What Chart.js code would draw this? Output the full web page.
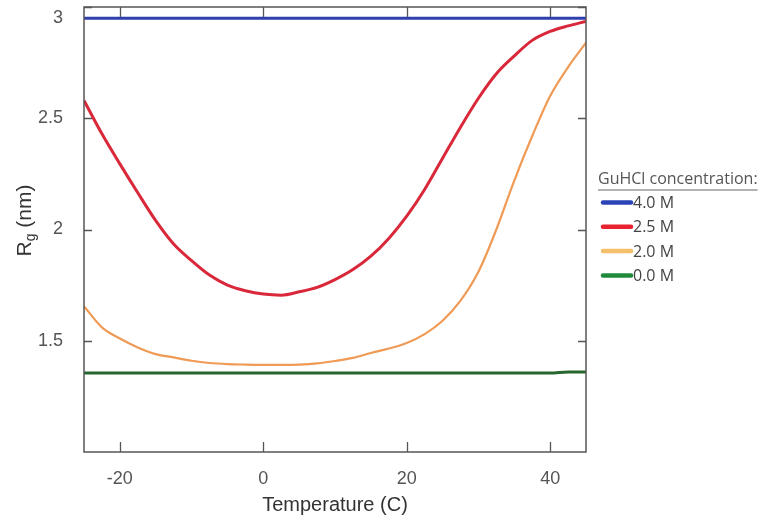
<!DOCTYPE html>
<html><head><meta charset="utf-8">
<script src="https://cdn.jsdelivr.net/npm/chart.js@4.4.0/dist/chart.umd.min.js"></script>
<style>html,body{margin:0;padding:0;background:#fff;}</style>
</head><body>
<canvas id="c" width="778" height="526"></canvas>
<script>
// ---- data ----
const temperatures = [-25,-22.5,-20,-17.5,-15,-12.5,-10,-7.5,-5,-2.5,0,2.5,5,7.5,10,12.5,15,17.5,20,22.5,25,27.5,30,32.5,35,37.5,40,42.5,45];
const rg_4_0M = [2.95,2.95,2.95,2.95,2.95,2.95,2.95,2.95,2.95,2.95,2.95,2.95,2.95,2.95,2.95,2.95,2.95,2.95,2.95,2.95,2.95,2.95,2.95,2.95,2.95,2.95,2.95,2.95,2.95];
const rg_2_5M = [2.58,2.43,2.295,2.165,2.04,1.935,1.86,1.795,1.75,1.725,1.71,1.705,1.72,1.74,1.775,1.82,1.88,1.96,2.06,2.18,2.32,2.46,2.59,2.70,2.78,2.85,2.89,2.915,2.935];
const rg_2_0M = [1.655,1.56,1.51,1.47,1.44,1.425,1.41,1.40,1.395,1.393,1.392,1.392,1.393,1.398,1.409,1.423,1.445,1.465,1.49,1.53,1.59,1.68,1.81,2.0,2.22,2.42,2.60,2.73,2.84];
const rg_0_0M = [1.355,1.355,1.355,1.355,1.355,1.355,1.355,1.355,1.355,1.355,1.355,1.355,1.355,1.355,1.355,1.355,1.355,1.355,1.355,1.355,1.355,1.355,1.355,1.355,1.355,1.355,1.355,1.36,1.36];
const seriesLabels = ['4.0 M','2.5 M','2.0 M','0.0 M'];
const xTickValues = [-20,0,20,40];
const xTickLabels = ['-20','0','20','40'];
const yTickValues = [1.5,2,2.5,3];
const yTickLabels = ['1.5','2','2.5','3'];
const legendTitle = 'GuHCl concentration:';
const xTitle = 'Temperature (C)';

// ---- styles ----
const lineColors = ['#2f3fae','#d9283a','#ef9a55','#26662f'];
const legendColors = ['#2a44b8','#e8232f','#f5c06a','#1e8a3a'];
const lineWidths = [3,3,2.2,3];
const FONT = '"Liberation Sans", Arial, sans-serif';

function pts(vals){ return temperatures.map((t,i)=>({x:t,y:vals[i]})); }
const seriesValues = [rg_4_0M, rg_2_5M, rg_2_0M, rg_0_0M];

const frameTicks = {
  id:'frameTicks',
  afterDraw(chart){
    const {ctx, chartArea:a, scales:{x,y}} = chart;
    ctx.save();
    ctx.strokeStyle = '#555';
    ctx.lineWidth = 1.5;
    ctx.strokeRect(a.left, a.top, a.right-a.left, a.bottom-a.top);
    ctx.lineWidth = 1.3;
    ctx.beginPath();
    xTickValues.forEach(v=>{
      const px = Math.round(x.getPixelForValue(v))+0.5;
      ctx.moveTo(px,a.bottom); ctx.lineTo(px,a.bottom-10);
      ctx.moveTo(px,a.top); ctx.lineTo(px,a.top+10);
    });
    yTickValues.forEach(v=>{
      const py = Math.round(y.getPixelForValue(v))+0.5;
      ctx.moveTo(a.left,py); ctx.lineTo(a.left+8,py);
      ctx.moveTo(a.right,py); ctx.lineTo(a.right-8,py);
    });
    ctx.stroke();
    // y tick labels (placed through the y scale)
    ctx.fillStyle = '#555';
    ctx.font = '18px ' + FONT;
    ctx.textAlign = 'right';
    yTickValues.forEach((v,i)=>{
      let py = y.getPixelForValue(v);
      if (py - a.top < 3) { ctx.textBaseline = 'top'; py += 2; }
      else ctx.textBaseline = 'middle';
      ctx.fillText(yTickLabels[i], a.left - 21, py);
    });
    ctx.restore();
  }
};

const yTitlePlugin = {
  id:'yTitle',
  afterDraw(chart){
    const {ctx, chartArea:a} = chart;
    const cy = (a.top+a.bottom)/2 - 9;
    ctx.save();
    ctx.translate(25, cy);
    ctx.rotate(-Math.PI/2);
    ctx.fillStyle = '#333';
    ctx.textBaseline = 'middle';
    ctx.textAlign = 'left';
    const big = '21px ' + FONT;
    const small = '14px ' + FONT;
    ctx.font = big; const wR = ctx.measureText('R').width; const wN = ctx.measureText(' (nm)').width;
    ctx.font = small; const wG = ctx.measureText('g').width;
    let x0 = -(wR+wG+wN)/2;
    ctx.font = big; ctx.fillText('R', x0, 0);
    ctx.font = small; ctx.fillText('g', x0+wR, 6);
    ctx.font = big; ctx.fillText(' (nm)', x0+wR+wG, 0);
    ctx.restore();
  }
};

const legendPlugin = {
  id:'customLegend',
  afterDraw(chart){
    const {ctx, chartArea:a} = chart;
    const cy = (a.top+a.bottom)/2;
    const x0 = a.right + 12;
    ctx.save();
    ctx.font = '16px "Open Sans", sans-serif';
    ctx.textBaseline = 'middle';
    ctx.textAlign = 'left';
    ctx.fillStyle = '#555';
    const ty = cy - 50;
    ctx.fillText(legendTitle, x0, ty);
    const w = ctx.measureText(legendTitle).width;
    ctx.strokeStyle = '#666'; ctx.lineWidth = 1;
    ctx.beginPath(); ctx.moveTo(x0, ty+10.5); ctx.lineTo(x0+w, ty+10.5); ctx.stroke();
    chart.data.datasets.forEach((ds,i)=>{
      const ey = cy - 27 + i*24.3;
      ctx.strokeStyle = legendColors[i];
      ctx.lineWidth = 4.5; ctx.lineCap = 'round';
      ctx.beginPath(); ctx.moveTo(x0+5, ey); ctx.lineTo(x0+33, ey); ctx.stroke();
      ctx.fillStyle = '#444';
      ctx.fillText(ds.label, x0+35, ey+1);
    });
    ctx.restore();
  }
};

new Chart(document.getElementById('c'), {
  type:'line',
  data:{
    datasets: seriesLabels.map((lab,i)=>({
      label: lab,
      data: pts(seriesValues[i]),
      borderColor: lineColors[i],
      borderWidth: lineWidths[i],
      pointRadius: 0,
      cubicInterpolationMode: 'monotone',
      fill: false
    }))
  },
  options:{
    responsive:false,
    animation:false,
    events:[],
    layout:{padding:{left:84, right:192, top:7, bottom:0}},
    plugins:{legend:{display:false}, tooltip:{enabled:false}},
    scales:{
      x:{
        type:'linear', min:-25, max:45,
        afterBuildTicks(s){ s.ticks = xTickValues.map(v=>({value:v})); },
        afterFit(s){ s.height = 74; },
        grid:{display:false, drawTicks:false},
        border:{display:false},
        ticks:{color:'#555', font:{size:18, family:FONT}, padding:16,
               callback:(v)=>xTickLabels[xTickValues.indexOf(v)]},
        title:{display:true, text:xTitle, color:'#333', font:{size:20, family:FONT}, padding:{top:3,bottom:9}}
      },
      y:{
        type:'linear', min:1, max:3,
        afterBuildTicks(s){ s.ticks = yTickValues.map(v=>({value:v})); },
        grid:{display:false, drawTicks:false},
        border:{display:false},
        ticks:{display:false}
      }
    }
  },
  plugins:[frameTicks, yTitlePlugin, legendPlugin]
});
</script>
</body></html>
